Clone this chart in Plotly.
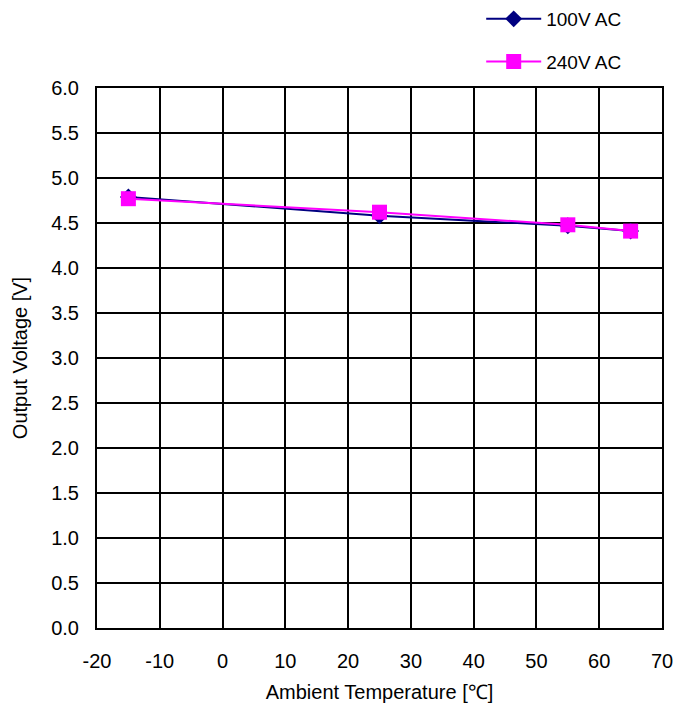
import plotly.graph_objects as go

temps = [-15, 25, 55, 65]
v100 = [4.79, 4.58, 4.47, 4.41]
v240 = [4.77, 4.62, 4.48, 4.41]
names = ["100V AC", "240V AC"]
xticks = [-20, -10, 0, 10, 20, 30, 40, 50, 60, 70]
yticks = [0.0, 0.5, 1.0, 1.5, 2.0, 2.5, 3.0, 3.5, 4.0, 4.5, 5.0, 5.5, 6.0]

fig = go.Figure()
fig.add_trace(go.Scatter(x=temps, y=v100, name=names[0], mode="lines+markers",
                         line=dict(color="#000080", width=2),
                         marker=dict(symbol="diamond", size=13, color="#000080"),
                         legendgroup="a"))
fig.add_trace(go.Scatter(x=temps, y=v240, name=names[1], mode="lines+markers",
                         line=dict(color="#FF00FF", width=2),
                         marker=dict(symbol="square", size=15, color="#FF00FF"),
                         legendgroup="b"))

axis_common = dict(showgrid=True, gridcolor="black", gridwidth=2,
                   showline=True, linecolor="black", linewidth=2, mirror=True,
                   zeroline=False, ticks="", tickfont=dict(size=20, color="black"),
                   title_font=dict(size=20, color="black"))

fig.update_xaxes(range=[-20, 70], tickvals=xticks, ticktext=[str(t) for t in xticks],
                 ticklabelstandoff=14,
                 title_text="Ambient Temperature [℃]", title_standoff=14, **axis_common)
fig.update_yaxes(range=[0, 6], tickvals=yticks, ticktext=[f"{t:.1f}" for t in yticks],
                 ticklabelstandoff=12,
                 title_text="Output Voltage [V]", title_standoff=18, **axis_common)

fig.update_layout(
    width=677, height=711,
    margin=dict(l=97, r=15, t=88, b=83, autoexpand=False),
    paper_bgcolor="white", plot_bgcolor="white",
    font=dict(family="Liberation Sans, Arial, sans-serif", color="black"),
    showlegend=True,
    legend=dict(x=0.68, y=1.163, xanchor="left", yanchor="top", itemwidth=55,
                font=dict(size=19), tracegroupgap=15, bgcolor="rgba(0,0,0,0)"),
)

fig.write_html("out.html")
